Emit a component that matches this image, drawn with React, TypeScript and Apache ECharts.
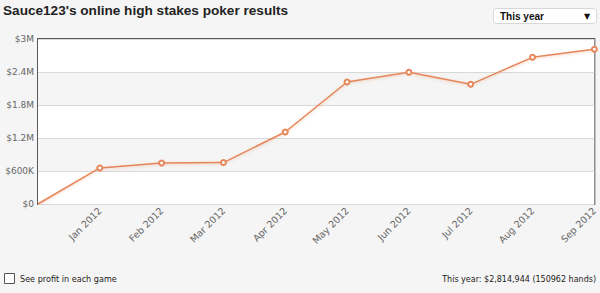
import React, { useEffect, useRef } from "react";
import * as echarts from "echarts";

const categories = ["", "Jan 2012", "Feb 2012", "Mar 2012", "Apr 2012", "May 2012", "Jun 2012", "Jul 2012", "Aug 2012", "Sep 2012"];
const profit = [0, 655000, 745000, 753000, 1309000, 2218000, 2395000, 2176000, 2667000, 2814944];
const yTicks = [0, 600000, 1200000, 1800000, 2400000, 3000000];
const yTickLabels = ["$0", "$600K", "$1.2M", "$1.8M", "$2.4M", "$3M"];
const titleText = "Sauce123's online high stakes poker results";
const periodText = "This year";
const checkboxText = "See profit in each game";
const summaryText = "This year: $2,814,944 (150962 hands)";

export default function App() {
  const ref = useRef<HTMLDivElement>(null);
  useEffect(() => {
    if (!ref.current) return;
    const chart = echarts.init(ref.current, null, { renderer: "svg" });
    const font = "'DejaVu Sans', Verdana, sans-serif";
    chart.setOption({
      animation: false,
      backgroundColor: "#f5f5f5",
      title: {
        text: titleText,
        left: 3,
        top: 3,
        padding: 0,
        textStyle: { fontFamily: "'Liberation Sans', Arial, sans-serif", fontSize: 13.6, fontWeight: "bold", color: "#222" },
      },
      grid: {
        left: 38,
        right: 3,
        top: 39,
        bottom: 89,
        show: true,
        backgroundColor: "#ffffff",
        borderColor: "#5a5a5a",
        borderWidth: 2,
      },
      xAxis: {
        type: "category",
        data: categories,
        boundaryGap: false,
        axisLine: { show: false },
        axisTick: { show: false },
        splitLine: { show: false },
        axisLabel: {
          rotate: 45,
          margin: 5,
          interval: 0,
          color: "#666",
          fontSize: 9.5,
          fontFamily: font,
        },
      },
      yAxis: {
        type: "value",
        min: 0,
        max: 3000000,
        interval: 600000,
        axisLine: { show: false },
        axisTick: { show: false },
        splitLine: { show: true, lineStyle: { color: "#d8d8d8", width: 1 } },
        splitArea: { show: true, areaStyle: { color: ["#ffffff", "#f5f5f5"] } },
        axisLabel: {
          margin: 4,
          color: "#666",
          fontSize: 9,
          fontFamily: font,
          formatter: (v: number) => {
            const i = yTicks.indexOf(v);
            return i >= 0 ? yTickLabels[i] : "";
          },
        },
      },
      series: [
        {
          type: "line",
          data: profit.map((v, i) => (i === 0 ? { value: v, symbol: "none" } : v)),
          symbol: "emptyCircle",
          symbolSize: 5,
          showSymbol: true,
          lineStyle: {
            color: "#e6865a",
            width: 1.5,
            shadowColor: "rgba(227,129,77,0.35)",
            shadowBlur: 3,
            shadowOffsetY: 1,
          },
          itemStyle: { color: "#e6865a", borderColor: "#e6865a", borderWidth: 1.2 },
        },
      ],
      graphic: [
        {
          type: "rect",
          shape: { x: 493.5, y: 8.5, width: 103, height: 15, r: 3 },
          style: { fill: "#ffffff", stroke: "#d8d8d8", lineWidth: 1 },
        },
        {
          type: "text",
          x: 500,
          y: 16,
          style: { text: periodText, fill: "#111", font: "bold 10px 'Liberation Sans', Arial, sans-serif", textVerticalAlign: "middle" },
        },
        {
          type: "text",
          x: 584,
          y: 16,
          style: { text: "▼", fill: "#111", font: "8px 'DejaVu Sans', sans-serif", textVerticalAlign: "middle" },
        },
        {
          type: "rect",
          shape: { x: 4.5, y: 273.5, width: 10, height: 10 },
          style: { fill: "#ffffff", stroke: "#555", lineWidth: 1 },
        },
        {
          type: "text",
          x: 20,
          y: 279,
          style: { text: checkboxText, fill: "#222", font: "8.1px 'DejaVu Sans', Verdana, sans-serif", textVerticalAlign: "middle" },
        },
        {
          type: "text",
          x: 596,
          y: 279,
          style: { text: summaryText, fill: "#222", font: "8px 'DejaVu Sans', Verdana, sans-serif", textAlign: "right", textVerticalAlign: "middle" },
        },
      ],
    });
    return () => chart.dispose();
  }, []);
  return <div ref={ref} style={{ position: "fixed", left: 0, top: 0, width: 600, height: 293 }} />;
}
